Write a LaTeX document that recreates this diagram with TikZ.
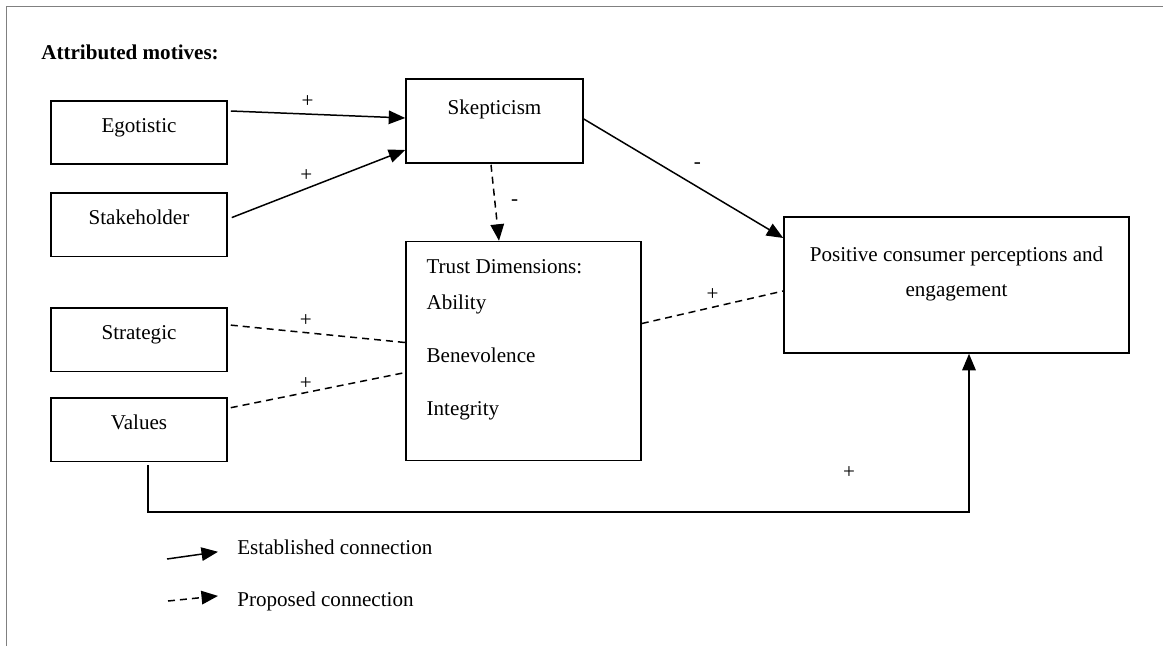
\documentclass[tikz,border=0pt]{standalone}
\usepackage{fontspec}
\setmainfont{Liberation Serif}
\usetikzlibrary{arrows.meta, positioning}

\begin{document}
\begin{tikzpicture}[
    x=0.02cm, y=-0.02cm,
    font=\fontsize{12}{14.4}\selectfont,
    motive/.style={rectangle, draw, line width=0.9pt, minimum width=3.52cm, minimum height=1.27cm, text height=0.6em, text depth=0.6em, inner sep=0pt},
    box/.style={rectangle, draw, line width=0.9pt, inner sep=0pt},
    plain/.style={inner sep=0pt},
    frame/.style={draw=gray, line width=0.75pt},
    arrow/.style={-{Triangle[length=3.3mm, width=2.7mm]}, line width=0.85pt},
    proposed/.style={dash pattern=on 0.14cm off 0.1cm, line width=0.85pt}
]
    \useasboundingbox (0,0) rectangle (1163,646);
    \draw[frame] (6.8,646) -- (6.8,6.5) -- (1163,6.5);

    % Motives
    \node[plain, anchor=base west, font=\fontsize{12}{14.4}\selectfont\bfseries] (title) at (41,59) {Attributed motives:};
    \node[motive] (ego) at (139,132.5) {Egotistic};
    \node[motive, below=0.54cm of ego] (stake) {Stakeholder};
    \node[motive, below=1cm of stake] (strat) {Strategic};
    \node[motive, below=0.5cm of strat] (values) {Values};

    % Middle and outcome
    \node[box, minimum width=3.54cm, minimum height=1.68cm] (skep) at (494.5,121) {};
    \node[anchor=base] (skeptext) at ([yshift=-0.72cm]skep.north) {Skepticism};
    \node[box, minimum width=4.7cm, minimum height=4.38cm, below=1.54cm of skep.south west, anchor=north west] (trust) {};
    \node[plain, anchor=base west] (trusthead) at ([shift={(21,33)}]trust.north west) {Trust Dimensions:};
    \node[plain, anchor=base west] (ability) at ([shift={(21,69)}]trust.north west) {Ability};
    \node[plain, anchor=base west] (benev) at ([shift={(21,122)}]trust.north west) {Benevolence};
    \node[plain, anchor=base west] (integ) at ([shift={(21,175)}]trust.north west) {Integrity};
    \node[box, minimum width=6.9cm, minimum height=2.72cm] (pos) at (956.5,285) {};
    \node[anchor=base] (posline1) at ([shift={(0,45)}]pos.north) {Positive consumer perceptions and};
    \node[anchor=base] (posline2) at ([shift={(0,80)}]pos.north) {engagement};

    % Connections
    \draw[arrow] ([shift={(3,-21.5)}]ego.east) -- node[pos=0.44, above] {+} ([shift={(0,-3)}]skep.west);
    \draw[arrow] ([shift={(4,-7)}]stake.east) -- node[pos=0.43, above] {+} ([shift={(0,29)}]skep.west);
    \draw[arrow, proposed] ([shift={(-3.5,1)}]skep.south) -- node[right=0.19cm] {-} ([shift={(-24.5,0)}]trust.north);
    \draw[arrow] ([shift={(0,-2)}]skep.east) -- node[pos=0.57, above=0.24cm] {-} ([shift={(0,-47)}]pos.west);
    \draw[proposed] ([shift={(3,-14.5)}]strat.east) -- node[pos=0.43, above] {+} ([shift={(0,-8.5)}]trust.west);
    \draw[proposed] ([shift={(3,-22)}]values.east) -- node[pos=0.43, above=-0.07cm] {+} ([shift={(0,21.5)}]trust.west);
    \draw[proposed] ([shift={(0,-27.5)}]trust.east) -- node[pos=0.5, above] {+} ([shift={(0,6)}]pos.west);
    \draw[arrow] ([shift={(9,3)}]values.south) -- ++(0,47) -| node[pos=0.427, above=0.55cm] {+} ([shift={(12.5,0)}]pos.south);

    % Legend
    \node[plain, anchor=base west] (established) at (237,554) {Established connection};
    \node[plain, anchor=base west] (proposedtext) at (237,606) {Proposed connection};
    \coordinate (estabtail) at (167,559);
    \coordinate (proptail) at (168,601);
    \draw[arrow] (estabtail) -- ([shift={(-19,5)}]established.west);
    \draw[arrow, proposed] (proptail) -- ([shift={(-19,-5)}]proposedtext.west);
\end{tikzpicture}
\end{document}
